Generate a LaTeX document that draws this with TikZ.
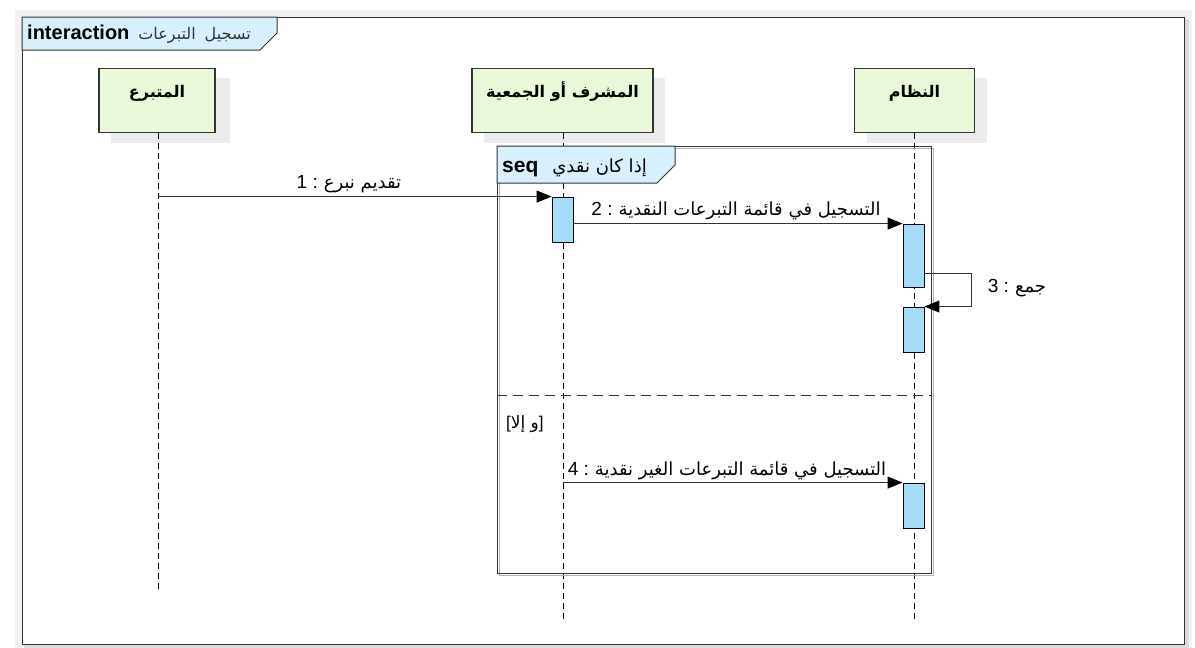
\documentclass[tikz,border=0pt]{standalone}
\usepackage{fontspec}
\setmainfont{Liberation Sans}
\newfontfamily\ar[Script=Arabic]{DejaVu Sans}
\TeXXeTstate=1
\usetikzlibrary{arrows.meta,calc}
\definecolor{boxgreen}{HTML}{E8F8D8}
\definecolor{actblue}{HTML}{A6DCF8}
\definecolor{tabblue}{HTML}{D8F0FC}
\definecolor{shad}{HTML}{ECECEC}
\definecolor{edge}{HTML}{333333}
\tikzset{
  lifebox/.style={draw=edge, line width=1.4pt, fill=boxgreen, minimum height=64pt, inner sep=0pt, anchor=north},
  boxtitle/.style={font=\fontsize{16}{18}\selectfont\bfseries\ar, anchor=base, inner sep=0pt},
  act/.style={draw=black, line width=0.9pt, fill=actblue, minimum width=21pt, inner sep=0pt},
  lifeline/.style={draw=black, line width=0.8pt, dash pattern=on 6pt off 4pt},
  msg/.style={draw=edge, line width=1pt, -{Triangle[length=15pt,width=12pt,fill=black,color=black]}},
  lbl/.style={font=\fontsize{19}{21}\selectfont, inner sep=0pt, anchor=base},
  frameline/.style={draw=edge, line width=1pt},
}
\newcommand{\arx}[1]{{\ar\fontsize{18}{20}\selectfont\beginR #1\endR}}
\begin{document}
\begin{tikzpicture}[x=1pt,y=-1pt]
\useasboundingbox (0,0) rectangle (1195,648);
% outer frame shadow
\fill[gray!10] (15,10) rectangle (1192,648);
\fill[gray!28] (24,19) rectangle (1189,648);
\fill[white] (0,0) rectangle (1195,9);
\fill[white] (0,0) rectangle (13,648);
\node[frameline, fill=white, minimum width=1162pt, minimum height=627pt, anchor=north west, inner sep=0pt] (frame) at (22,17) {};
% interaction tab
\draw[frameline, fill=tabblue] (frame.north west) -- ++(255,0) -- ++(0,16) -- ++(-17,17) -- ++(-238,0) -- cycle;
\node[inner sep=0pt, anchor=base west] (ttl) at (27,39) {{\fontsize{20}{22}\selectfont\bfseries interaction}\hspace{9pt}{\ar\fontsize{16}{18}\selectfont\color{edge}\beginR تسجيل\hspace{9pt}التبرعات\endR}};
% lifeline boxes (shadows)
\fill[shad] (111,78) rectangle (230,143);
\fill[shad] (484,78) rectangle (665,143);
\fill[shad] (867,78) rectangle (987,143);
\node[lifebox, minimum width=116pt] (b1) at (157,68) {};
\node[lifebox, minimum width=181pt] (b2) at (562.5,68) {};
\node[lifebox, minimum width=120pt] (b3) at (914.5,68) {};
\node[boxtitle] (t1) at ([yshift=-29pt]b1.north) {\beginR المتبرع\endR};
\node[boxtitle] (t2) at ([yshift=-29pt]b2.north) {\beginR المشرف أو الجمعية\endR};
\node[boxtitle] (t3) at ([yshift=-29pt]b3.north) {\beginR النظام\endR};
% lifelines
\coordinate (e1) at (158,590);
\coordinate (e2) at (563,620);
\coordinate (e3) at (914,620);
\draw[lifeline] (b1.south -| e1) -- (e1);
\draw[lifeline] (b2.south -| e2) -- (e2);
\draw[lifeline] (b3.south -| e3) -- (e3);
% seq fragment
\draw[gray!60, line width=1pt] (499,148) rectangle (933,575);
\node[frameline, minimum width=434pt, minimum height=427pt, anchor=north west, inner sep=0pt] (seq) at (497,146) {};
\draw[frameline, fill=tabblue] (seq.north west) -- ++(178,0) -- ++(0,19) -- ++(-18,18) -- ++(-160,0) -- cycle;
\node[inner sep=0pt, anchor=base west] (seqt) at (502,172) {{\fontsize{21}{23}\selectfont\bfseries seq}\hspace{14pt}{\ar\fontsize{18}{20}\selectfont\beginR إذا كان نقدي\endR}};
\draw[edge, line width=1pt, dash pattern=on 10pt off 6pt] (seq.west |- 0,395) -- (seq.east |- 0,395);
\node[inner sep=0pt, anchor=base west, font=\fontsize{17}{19}\selectfont] (guard) at (506,428) {[{\ar\fontsize{17}{19}\selectfont\beginR و إلا\endR}]};
% activations
\node[act, minimum height=45pt] (a1) at (562.5,219.5) {};
\node[act, minimum height=63pt] (a2) at (913.5,255.5) {};
\node[act, minimum height=45pt] (a3) at (913.5,329.5) {};
\node[act, minimum height=45pt] (a4) at (913.5,505.5) {};
% messages
\draw[msg] (e1 |- a1.north west) -- (a1.north west);
\draw[msg] (a1.east |- a2.north west) -- (a2.north west);
\draw[msg] ([yshift=14pt]a2.south east) -- ++(47,0) |- (a3.north east);
\draw[msg] (e2 |- a4.north west) -- (a4.north west);
% labels
\node[lbl] (m1) at (349,188) {1 :\hspace{6pt}\arx{تقديم نبرع}};
\node[lbl] (m2) at (736,215) {2 :\hspace{6pt}\arx{التسجيل في قائمة التبرعات النقدية}};
\node[lbl] (m3) at (1017,292) {3 :\hspace{6pt}\arx{جمع}};
\node[lbl] (m4) at (727,475) {4 :\hspace{6pt}\arx{التسجيل في قائمة التبرعات الغير نقدية}};
\end{tikzpicture}
\end{document}
